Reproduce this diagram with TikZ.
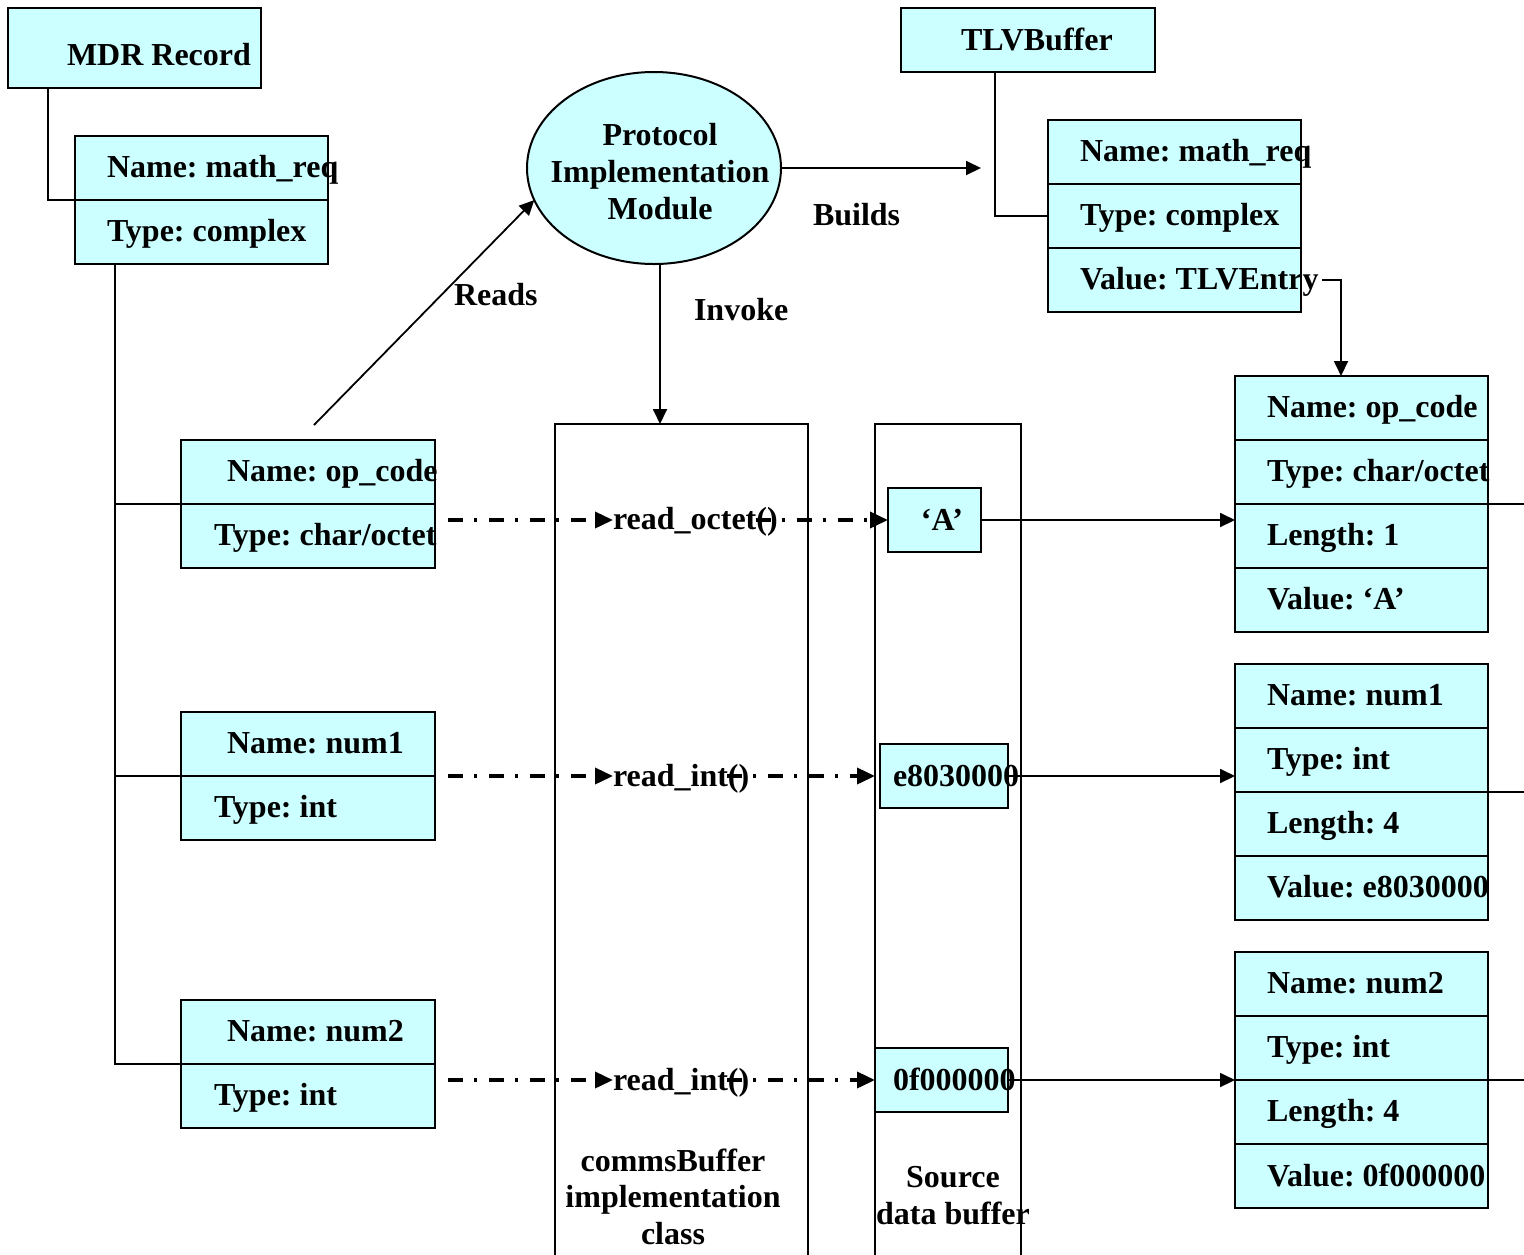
\documentclass[tikz,border=0pt]{standalone}
\usepackage{fontspec}
\setmainfont{Liberation Serif}
\usetikzlibrary{shapes.geometric,arrows.meta,calc}
\definecolor{cellfill}{RGB}{204,255,255}
% boxes: name, left, top, width, height (in pixel units of the drawing grid)
\newcommand\cellbox[5]{\node[cell,minimum width=#4*0.5pt,minimum height=#5*0.5pt] (#1) at (#2,#3) {};}
\newcommand\openbox[5]{\node[frame,minimum width=#4*0.5pt,minimum height=#5*0.5pt] (#1) at (#2,#3) {};}
% text placed on its baseline: name, x, y, text
\newcommand\lbl[4]{\node[txt] (#1) at (#2,#3) {#4};}
\newcommand\clbl[4]{\node[ctxt] (#1) at (#2,#3) {#4};}
\frenchspacing
\begin{document}
\begin{tikzpicture}[x=0.5pt,y=-0.5pt,
  cell/.style={draw,fill=cellfill,line width=1pt,inner sep=0pt,outer sep=0pt,anchor=north west},
  frame/.style={cell,fill=none},
  txt/.style={anchor=base west,inner sep=0pt,outer sep=0pt,font=\frenchspacing\bfseries\fontsize{16}{19}\selectfont},
  ctxt/.style={txt,anchor=base},
  link/.style={line width=0.9pt},
  arr/.style={link,-{Triangle[length=7.5pt,width=7pt]}},
  dd/.style={line width=1.8pt,dash pattern=on 7.5pt off 5.5pt on 1.5pt off 6pt},
  ddarr/.style={dd,-{Triangle[length=9pt,width=8pt]}},
]
\path[use as bounding box] (0,0) rectangle (1524,1254);
\clip (0,0) rectangle (1524,1254);

% ---- MDR record side ----
\cellbox{mdr}{8}{8}{253}{80}
\cellbox{mreqName}{75}{136}{253}{64}
\cellbox{mreqType}{75}{200}{253}{64}
\cellbox{opName}{181}{440}{254}{64}
\cellbox{opType}{181}{504}{254}{64}
\cellbox{nOneName}{181}{712}{254}{64}
\cellbox{nOneType}{181}{776}{254}{64}
\cellbox{nTwoName}{181}{1000}{254}{64}
\cellbox{nTwoType}{181}{1064}{254}{64}

% ---- protocol module ----
\node[ellipse,draw,fill=cellfill,line width=1pt,inner sep=0pt,outer sep=0pt,
      minimum width=254*0.5pt,minimum height=192*0.5pt] (pim) at (654,168) {};

% ---- buffers ----
\openbox{cbuf}{555}{424}{253}{900}
\openbox{sbuf}{875}{424}{146}{900}
\cellbox{aBox}{888}{488}{93}{64}
\cellbox{eBox}{880}{744}{128}{64}
\cellbox{fBox}{875}{1048}{133}{64}

% ---- TLV side ----
\cellbox{tlv}{901}{8}{254}{64}
\cellbox{tName}{1048}{120}{253}{64}
\cellbox{tType}{1048}{184}{253}{64}
\cellbox{tValue}{1048}{248}{253}{64}
\cellbox{xopName}{1235}{376}{253}{64}
\cellbox{xopType}{1235}{440}{253}{64}
\cellbox{xopLen}{1235}{504}{253}{64}
\cellbox{xopVal}{1235}{568}{253}{64}
\cellbox{xnOneName}{1235}{664}{253}{64}
\cellbox{xnOneType}{1235}{728}{253}{64}
\cellbox{xnOneLen}{1235}{792}{253}{64}
\cellbox{xnOneVal}{1235}{856}{253}{64}
\cellbox{xnTwoName}{1235}{952}{253}{64}
\cellbox{xnTwoType}{1235}{1016}{253}{64}
\cellbox{xnTwoLen}{1235}{1080}{253}{64}
\cellbox{xnTwoVal}{1235}{1144}{253}{64}

% ---- texts ----
\lbl{tMdr}{67}{65}{MDR Record}
\lbl{tMreqN}{107}{177}{Name: math\_req}
\lbl{tMreqT}{107}{241}{Type: complex}
\lbl{tOpN}{227}{481}{Name: op\_code}
\lbl{tOpT}{214}{545}{Type: char/octet}
\lbl{tNOneN}{227}{753}{Name: num1}
\lbl{tNOneT}{214}{817}{Type: int}
\lbl{tNTwoN}{227}{1041}{Name: num2}
\lbl{tNTwoT}{214}{1105}{Type: int}

\clbl{pimA}{660}{145}{Protocol}
\clbl{pimB}{660}{182}{Implementation}
\clbl{pimC}{660}{219}{Module}

\lbl{reads}{454}{305}{Reads}
\lbl{builds}{813}{225}{Builds}
\lbl{invoke}{694}{320}{Invoke}

\lbl{rdOne}{613}{529}{read\_octet()}
\lbl{rdTwo}{613}{786}{read\_int()}
\lbl{rdThree}{613}{1090}{read\_int()}

\clbl{aTxt}{942}{530}{‘A’}
\lbl{eTxt}{893}{786}{e8030000}
\lbl{fTxt}{893}{1090}{0f000000}

\clbl{cbufA}{673}{1171}{commsBuffer}
\clbl{cbufB}{673}{1207}{implementation}
\clbl{cbufC}{673}{1244}{class}
\clbl{sbufA}{953}{1187}{Source}
\clbl{sbufB}{953}{1224}{data buffer}

\lbl{tTlv}{961}{50}{TLVBuffer}
\lbl{tTN}{1080}{161}{Name: math\_req}
\lbl{tTT}{1080}{225}{Type: complex}
\lbl{tTV}{1080}{289}{Value: TLVEntry}

\lbl{xOpN}{1267}{417}{Name: op\_code}
\lbl{xOpT}{1267}{481}{Type: char/octet}
\lbl{xOpL}{1267}{545}{Length: 1}
\lbl{xOpV}{1267}{609}{Value: ‘A’}
\lbl{xNOneN}{1267}{705}{Name: num1}
\lbl{xNOneT}{1267}{769}{Type: int}
\lbl{xNOneL}{1267}{833}{Length: 4}
\lbl{xNOneV}{1267}{897}{Value: e8030000}
\lbl{xNTwoN}{1267}{993}{Name: num2}
\lbl{xNTwoT}{1267}{1057}{Type: int}
\lbl{xNTwoL}{1267}{1121}{Length: 4}
\lbl{xNTwoV}{1267}{1186}{Value: 0f000000}

% ---- connectors ----
\coordinate (readsFrom) at (314,425);
\coordinate (buildsTo) at (981,168);
\coordinate (invFrom) at ($(pim.south)+(6,0)$);
\coordinate (rim) at (1524,0);

\draw[link] (mdr.south west) ++(40,0) |- (mreqName.south west);
\draw[link] (mreqType.south west) ++(40,0) coordinate (trunk) |- (nTwoType.north west);
\draw[link] (trunk) |- (opType.north west);
\draw[link] (trunk) |- (nOneType.north west);

\draw[arr] (readsFrom) -- (pim.195);
\draw[arr] (pim.east) -- (buildsTo);
\draw[arr] (invFrom) -- (invFrom |- cbuf.north);

\draw[link] (tlv.south west) ++(94,0) |- (tType.west);
\draw[arr] (tValue.east) ++(21,0) -| ($(xopName.north west)+(106,0)$);

% calls through the buffer class
\draw[ddarr] (aBox.west -| opType.east) ++(13,0) -- (aBox.west -| rdOne.west);
\draw[ddarr] (rdOne.east |- aBox.west) ++(-22,0) -- (aBox.west);
\draw[ddarr] (eBox.west -| nOneType.east) ++(13,0) -- (eBox.west -| rdTwo.west);
\draw[ddarr] (rdTwo.east |- eBox.west) ++(-22,0) -- (eBox.west -| sbuf.west);
\draw[ddarr] (fBox.west -| nTwoType.east) ++(13,0) -- (fBox.west -| rdThree.west);
\draw[ddarr] (rdThree.east |- fBox.west) ++(-22,0) -- (fBox.west);

% values copied into the TLV entries
\draw[arr] (aBox.east) -- (aBox.east -| xopLen.west);
\draw[arr] (eBox.east) -- (eBox.east -| xnOneType.west);
\draw[arr] (fBox.east) -- (fBox.east -| xnTwoLen.west);

% entries continuing to the right
\draw[link] (xopLen.north east) -- (xopLen.north east -| rim);
\draw[link] (xnOneLen.north east) -- (xnOneLen.north east -| rim);
\draw[link] (xnTwoLen.north east) -- (xnTwoLen.north east -| rim);
\end{tikzpicture}
\end{document}
